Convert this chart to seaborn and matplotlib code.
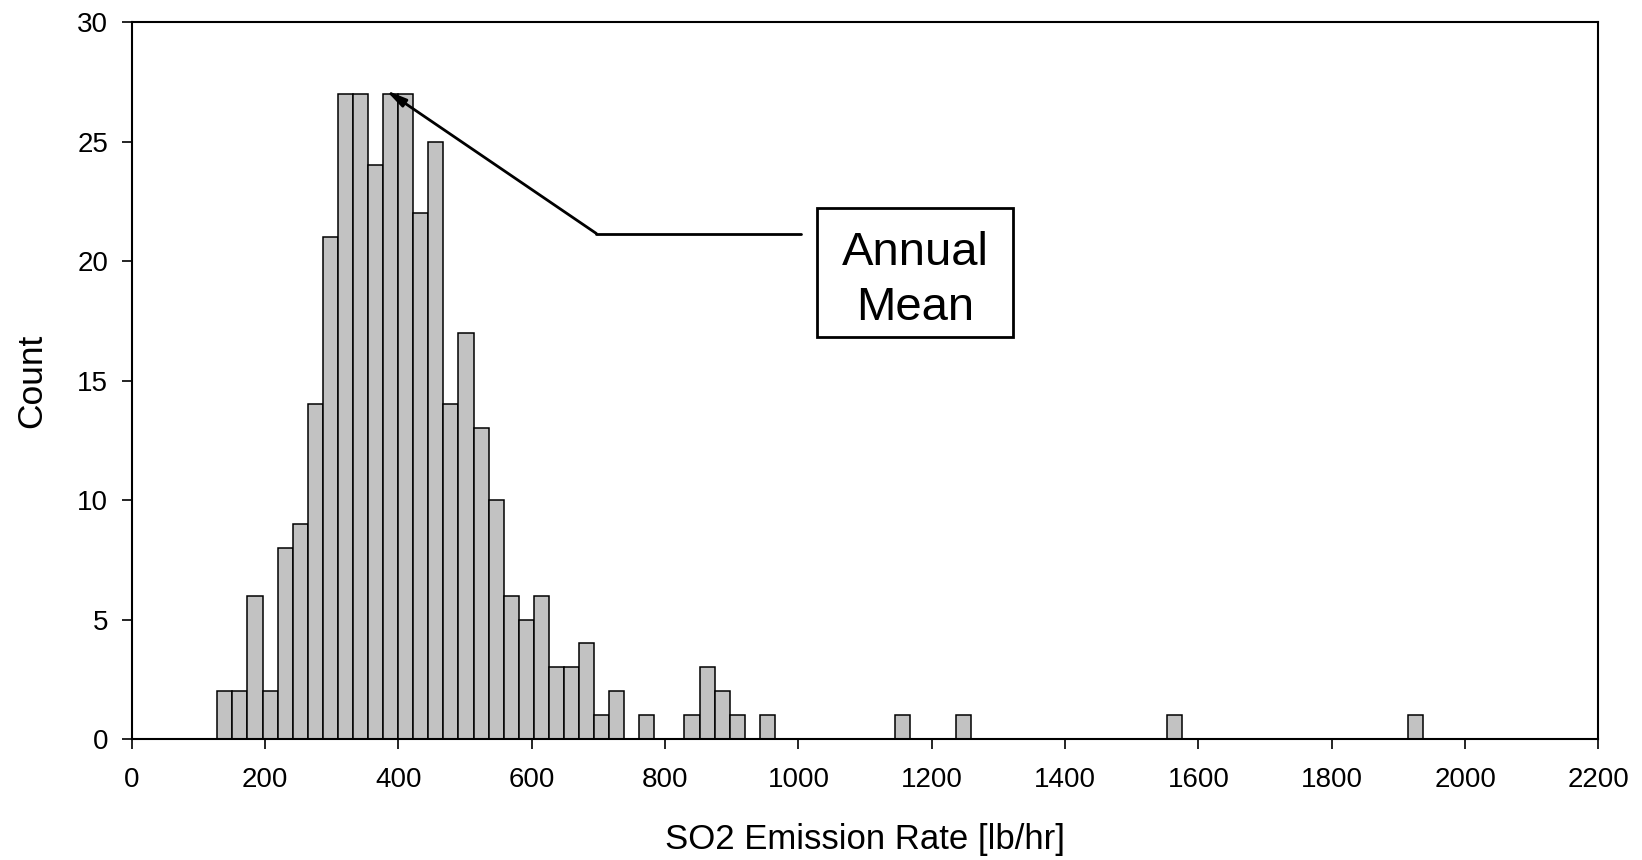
import numpy as np
import pandas as pd
import matplotlib
matplotlib.use("Agg")
import matplotlib.pyplot as plt
import seaborn as sns
from matplotlib.patches import Rectangle

# ---- data (80 equal bins) ----
bin_start = 128.5
bin_width = 22.6
counts = [2, 2, 6, 2, 8, 9, 14, 21, 27, 27,
          24, 27, 27, 22, 25, 14, 17, 13, 10, 6,
          5, 6, 3, 3, 4, 1, 2, 0, 1, 0,
          0, 1, 3, 2, 1, 0, 1, 0, 0, 0,
          0, 0, 0, 0, 0, 1, 0, 0, 0, 1,
          0, 0, 0, 0, 0, 0, 0, 0, 0, 0,
          0, 0, 0, 1, 0, 0, 0, 0, 0, 0,
          0, 0, 0, 0, 0, 0, 0, 0, 0, 1]
x_ticks = [0, 200, 400, 600, 800, 1000, 1200, 1400, 1600, 1800, 2000, 2200]
y_ticks = [0, 5, 10, 15, 20, 25, 30]
x_label = "SO2 Emission Rate [lb/hr]"
y_label = "Count"
note_text = "Annual\nMean"
annual_mean = 381

n_bins = len(counts)
edges = bin_start + bin_width * np.arange(n_bins + 1)
centers = (edges[:-1] + edges[1:]) / 2
df = pd.DataFrame({"rate": centers, "count": counts})

sns.set_theme(style="ticks")
plt.rcParams["font.family"] = ["Liberation Sans", "DejaVu Sans"]

fig = plt.figure(figsize=(16.42, 8.6), dpi=100)
ax = fig.add_axes([0.0802, 0.1407, 0.8933, 0.8337])

sns.histplot(data=df, x="rate", weights="count", bins=n_bins,
             binrange=(edges[0], edges[-1]), ax=ax,
             color="#c2c2c2", edgecolor="black", linewidth=1.1, alpha=1.0)

ax.set_xlim(0, 2200)
ax.set_ylim(0, 30)
ax.set_xticks(x_ticks)
ax.set_yticks(y_ticks)
ax.tick_params(axis="both", labelsize=20, direction="out", length=7,
               width=1.2, color="black", labelcolor="black")
ax.tick_params(axis="x", pad=13)
ax.tick_params(axis="y", pad=10)
for s in ax.spines.values():
    s.set_visible(True)
    s.set_color("black")
    s.set_linewidth(1.5)
ax.set_xlabel(x_label, fontsize=25, color="black", labelpad=22)
ax.set_ylabel(y_label, fontsize=25.5, color="black", labelpad=21)

# annotation: arrow to the annual mean
elbow = (697, 21.15)
line_end = 1004
ax.annotate("", xy=(annual_mean, 27.15), xytext=elbow,
            arrowprops=dict(arrowstyle="-|>,head_length=1.0,head_width=0.22",
                            color="black", lw=2, shrinkA=0, shrinkB=0))
ax.plot([elbow[0], line_end], [elbow[1], elbow[1]], color="black", lw=2)
ax.add_patch(Rectangle((1028, 16.8), 294, 5.4, facecolor="white",
                       edgecolor="black", lw=2, zorder=4))
ax.text(1175, 19.2, note_text, ha="center", va="center", fontsize=34,
        linespacing=1.32, color="black", zorder=5)

fig.savefig("out.png", dpi=100, facecolor="white")
